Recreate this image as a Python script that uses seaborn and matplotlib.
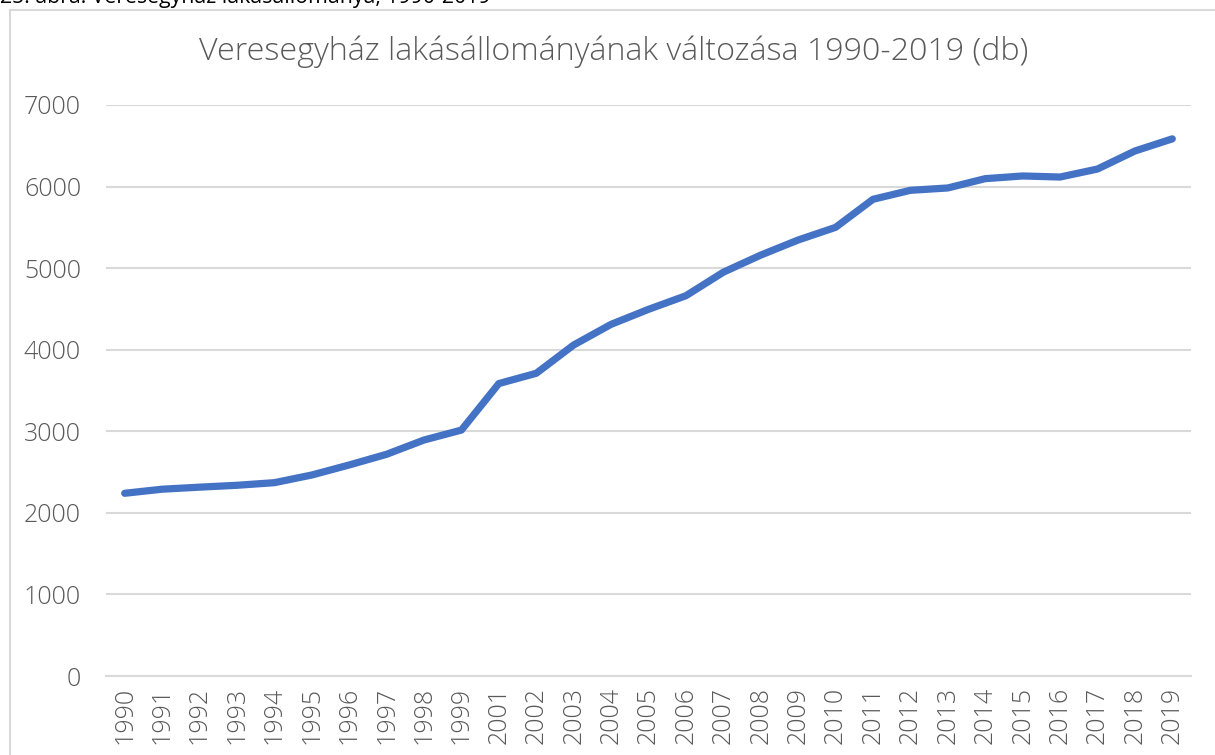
import matplotlib
matplotlib.use("Agg")
import matplotlib.pyplot as plt
import seaborn as sns
import pandas as pd
from matplotlib.patches import Rectangle

years = ["1990", "1991", "1992", "1993", "1994", "1995", "1996", "1997", "1998", "1999",
         "2001", "2002", "2003", "2004", "2005", "2006", "2007", "2008", "2009", "2010",
         "2011", "2012", "2013", "2014", "2015", "2016", "2017", "2018", "2019"]
dwellings = [2240, 2290, 2315, 2338, 2370, 2464, 2587, 2718, 2893, 3015,
             3585, 3711, 4058, 4311, 4495, 4662, 4950, 5160, 5345, 5500,
             5844, 5954, 5983, 6097, 6130, 6117, 6215, 6436, 6585]
yticks = [0, 1000, 2000, 3000, 4000, 5000, 6000, 7000]
title = "Veresegyház lakásállományának változása 1990-2019 (db)"
caption = "25. ábra: Veresegyház lakásállománya, 1990-2019"

df = pd.DataFrame({"year": years, "value": dwellings})
df["pos"] = range(len(years))

sns.set_theme(style="white")
plt.rcParams["font.family"] = ["Open Sans", "DejaVu Sans"]

W, H = 1215, 755
fig = plt.figure(figsize=(W / 100, H / 100), dpi=100)
ax = fig.add_axes([106 / W, 1 - 676 / H, (1191 - 106) / W, (676 - 105) / H])

sns.lineplot(data=df, x="pos", y="value", ax=ax, color="#4472C4", linewidth=5.2,
             solid_capstyle="round", solid_joinstyle="round", zorder=3)

ax.set_xlim(-0.5, len(years) - 0.5)
ax.set_ylim(0, 7000)
ax.set_yticks(yticks)
ax.set_yticklabels([str(t) for t in yticks])
ax.set_xticks(df["pos"])
ax.set_xticklabels(years, rotation=90)
ax.set_xlabel("")
ax.set_ylabel("")
ax.grid(axis="y", color="#D9D9D9", linewidth=1.5)
ax.grid(axis="x", visible=False)
ax.set_axisbelow(True)
for s in ["top", "right", "left"]:
    ax.spines[s].set_visible(False)
ax.spines["bottom"].set_color("#D9D9D9")
ax.spines["bottom"].set_linewidth(1.5)
ax.tick_params(axis="both", length=0, labelsize=18, labelcolor="#595959")
ax.tick_params(axis="y", pad=18)
ax.tick_params(axis="x", pad=8)
for lbl in ax.get_xticklabels() + ax.get_yticklabels():
    lbl.set_fontweight("light")

fig.text(614 / W, 1 - 52 / H, title, ha="center", va="center", fontsize=23.2,
         color="#595959", fontweight="light")
fig.text(0, 1 + 2 / H, caption, ha="left", va="center", fontsize=15.3, color="#000000")

fig.patches.append(Rectangle((9.5 / W, -0.1), 1.2, 1 - 9.5 / H + 0.1, transform=fig.transFigure,
                             fill=False, edgecolor="#D9D9D9", linewidth=1.5))

fig.savefig("out.png", dpi=100)
